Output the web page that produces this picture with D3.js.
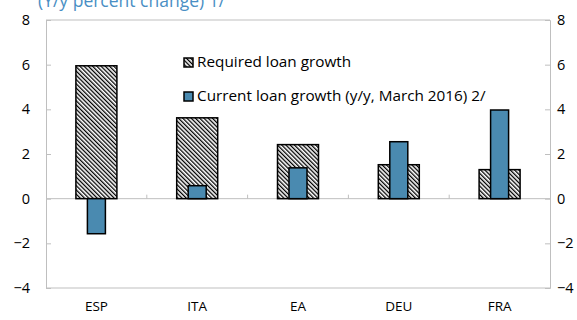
<!DOCTYPE html>
<html><head><meta charset="utf-8">
<script src="https://cdn.jsdelivr.net/npm/d3@7"></script>
<style>body{margin:0;background:#fff;} svg{display:block;}</style>
</head><body>
<svg id="c" width="577" height="320"></svg>
<script>
const categories = ["ESP","ITA","EA","DEU","FRA"];
const required = [5.95, 3.62, 2.42, 1.52, 1.3];
const current = [-1.57, 0.58, 1.38, 2.55, 3.97];
const yTicks = [-4,-2,0,2,4,6,8];
const seriesNames = ["Required loan growth","Current loan growth (y/y, March 2016) 2/"];
const title = "(Y/y percent change) 1/";

const svg = d3.select("#c");
const font = "'Open Sans', 'Noto Sans', sans-serif";
const L = 46, R = 550, T = 20, B = 288;
const x = d3.scaleBand().domain(categories).range([L, R]);
const y = d3.scaleLinear().domain([-4, 8]).range([B, T]);
const gray = "#bfbfbf";

const defs = svg.append("defs");
const pat = defs.append("pattern").attr("id","hatch").attr("patternUnits","userSpaceOnUse")
  .attr("width",3).attr("height",3).attr("patternTransform","rotate(-45)");
pat.append("rect").attr("width",3).attr("height",3).attr("fill","#fff");
pat.append("rect").attr("x",0).attr("y",0).attr("width",1.3).attr("height",3).attr("fill","#000");

svg.append("text").attr("x",38).attr("y",7).attr("fill","#4a8fc4")
  .attr("font-family",font).attr("font-size",17.5).text(title);

// frame
svg.append("line").attr("x1",L).attr("x2",R).attr("y1",T).attr("y2",T).attr("stroke",gray);
svg.append("line").attr("x1",L).attr("x2",R).attr("y1",B).attr("y2",B).attr("stroke",gray);

const leftAxis = svg.append("g").attr("transform",`translate(${L},0)`)
  .call(d3.axisLeft(y).tickValues(yTicks).tickSize(-5).tickPadding(16));
const rightAxis = svg.append("g").attr("transform",`translate(${R},0)`)
  .call(d3.axisRight(y).tickValues(yTicks).tickSize(-5).tickPadding(7));
[leftAxis,rightAxis].forEach(a=>{
  a.select(".domain").attr("stroke",gray);
  a.selectAll(".tick line").attr("stroke",gray);
  a.selectAll("text").attr("font-family",font).attr("font-size",14.5).attr("fill","#000");
});

// zero line with category ticks
svg.append("line").attr("x1",L).attr("x2",R).attr("y1",y(0)).attr("y2",y(0)).attr("stroke",gray);
svg.append("g").selectAll("line").data(categories.slice(1)).join("line")
  .attr("x1",d=>x(d)).attr("x2",d=>x(d)).attr("y1",y(0)).attr("y2",y(0)-4).attr("stroke",gray);

// category labels
svg.append("g").selectAll("text").data(categories).join("text")
  .attr("x",d=>x(d)+x.bandwidth()/2).attr("y",311).attr("text-anchor","middle")
  .attr("font-family",font).attr("font-size",13.5).text(d=>d);

const bw1 = 41, bw2 = 18;
svg.append("g").selectAll("rect").data(categories).join("rect")
  .attr("x",d=>x(d)+x.bandwidth()/2-bw1/2).attr("width",bw1)
  .attr("y",(d,i)=>y(Math.max(0,required[i]))).attr("height",(d,i)=>Math.abs(y(required[i])-y(0)))
  .attr("fill","url(#hatch)").attr("stroke","#000").attr("stroke-width",1.5);
svg.append("g").selectAll("rect").data(categories).join("rect")
  .attr("x",d=>x(d)+x.bandwidth()/2-bw2/2).attr("width",bw2)
  .attr("y",(d,i)=>y(Math.max(0,current[i]))).attr("height",(d,i)=>Math.abs(y(current[i])-y(0)))
  .attr("fill","#4a8ab0").attr("stroke","#000").attr("stroke-width",1.5);

// legend
const lg = svg.append("g");
const fills = ["url(#hatch)","#4a8ab0"];
[0,1].forEach(i=>{
  const base = 67 + i*34;
  lg.append("rect").attr("x",184).attr("y",base-9).attr("width",9).attr("height",9)
    .attr("fill",fills[i]).attr("stroke","#000").attr("stroke-width",1.5);
  lg.append("text").attr("x",197).attr("y",base).attr("font-family",font).attr("font-size",15.3)
    .text(seriesNames[i]);
});
</script>
</body></html>
